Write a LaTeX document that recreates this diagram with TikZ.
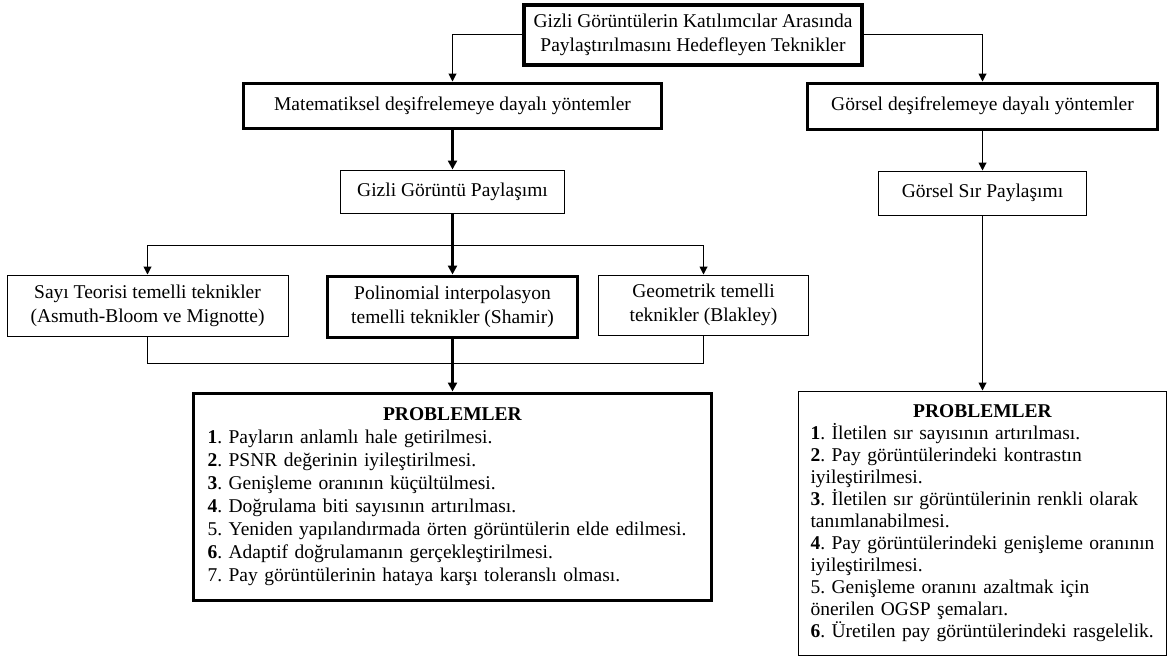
\documentclass[tikz,border=0pt]{standalone}
\usepackage{fontspec}
\setmainfont{Liberation Serif}
\usetikzlibrary{arrows.meta}

\begin{document}
\begin{tikzpicture}[x=1pt,y=-1pt,
  every node/.style={font=\fontsize{19.5}{24}\selectfont\frenchspacing, align=center, inner sep=0pt},
  thinbox/.style={draw, line width=1pt, fill=white},
  thickbox/.style={draw, line width=3pt, fill=white},
  listbox/.style={align=left, inner xsep=14pt},
  link/.style={line width=1pt, -{Triangle[length=8pt,width=8pt]}},
  boldlink/.style={line width=3pt, -{Triangle[length=9pt,width=9pt]}},
  plain/.style={line width=1pt}
]
\useasboundingbox (0,0) rectangle (1169,662);
\newcommand\listhead{\makebox[\hsize][c]{\textbf{PROBLEMLER}}\\}

% top of the hierarchy
\node[thickbox, line width=4pt, minimum width=338pt, minimum height=60pt] (root) at (693,34.5)
  {Gizli Görüntülerin Katılımcılar Arasında\\Paylaştırılmasını Hedefleyen Teknikler};

% two families of methods
\node[thickbox, minimum width=418pt, minimum height=45pt] (mat) at (452.5,105.5)
  {Matematiksel deşifrelemeye dayalı yöntemler};
\node[thickbox, minimum width=350pt, minimum height=46pt] (gor) at (982.5,106)
  {Görsel deşifrelemeye dayalı yöntemler};

\node[thinbox, minimum width=224pt, minimum height=43pt] (gizli) at (452.5,191.5)
  {Gizli Görüntü Paylaşımı};
\node[thinbox, minimum width=208pt, minimum height=44pt] (gsir) at (982.5,193)
  {Görsel Sır Paylaşımı};

% secret image sharing techniques
\node[thinbox, minimum width=281pt, minimum height=61pt] (sayi) at (147.5,305.5)
  {Sayı Teorisi temelli teknikler\\(Asmuth-Bloom ve Mignotte)};
\node[thickbox, minimum width=250pt, minimum height=61pt] (poli) at (452.5,306.5)
  {Polinomial interpolasyon\\temelli teknikler (Shamir)};
\node[thinbox, minimum width=210pt, minimum height=60pt] (geo) at (703.5,305)
  {Geometrik temelli\\teknikler (Blakley)};

% open problems
\node[thickbox, listbox, font=\fontsize{19.5}{23}\selectfont\frenchspacing,
      text width=490pt, minimum height=207pt] (probL) at (452.5,496.5)
  {\listhead
   \textbf{1}. Payların anlamlı hale getirilmesi.\\
   \textbf{2}. PSNR değerinin iyileştirilmesi.\\
   \textbf{3}. Genişleme oranının küçültülmesi.\\
   \textbf{4}. Doğrulama biti sayısının artırılması.\\
   5. Yeniden yapılandırmada örten görüntülerin elde edilmesi.\\
   \textbf{6}. Adaptif doğrulamanın gerçekleştirilmesi.\\
   7. Pay görüntülerinin hataya karşı toleranslı olması.};

\node[thinbox, listbox, inner xsep=12pt, font=\fontsize{19.5}{22}\selectfont\frenchspacing,
      text width=344pt, minimum height=264pt] (probR) at (982.5,523)
  {\listhead
   \textbf{1}. İletilen sır sayısının artırılması.\\
   \textbf{2}. Pay görüntülerindeki kontrastın\\
   iyileştirilmesi.\\
   \textbf{3}. İletilen sır görüntülerinin renkli olarak\\
   tanımlanabilmesi.\\
   \textbf{4}. Pay görüntülerindeki genişleme oranının\\
   iyileştirilmesi.\\
   5. Genişleme oranını azaltmak için\\
   önerilen OGSP şemaları.\\
   \textbf{6}. Üretilen pay görüntülerindeki rasgelelik.};

% connectors
\draw[link] (root.west) -| (mat.north);
\draw[link] (root.east) -| (gor.north);
\draw[boldlink] (mat) -- (gizli);
\draw[link] (gor) -- (gsir);
\draw[boldlink] (gizli) -- (poli);
\coordinate (fork) at (452.5,245.5);
\draw[link] (fork) -| (sayi.north);
\draw[link] (fork) -| (geo.north);
\coordinate (join) at (452.5,363.5);
\draw[plain] (sayi.south) |- (join) -| (geo.south);
\draw[boldlink] (poli) -- (probL);
\draw[link] (gsir) -- (probR);
\end{tikzpicture}
\end{document}
